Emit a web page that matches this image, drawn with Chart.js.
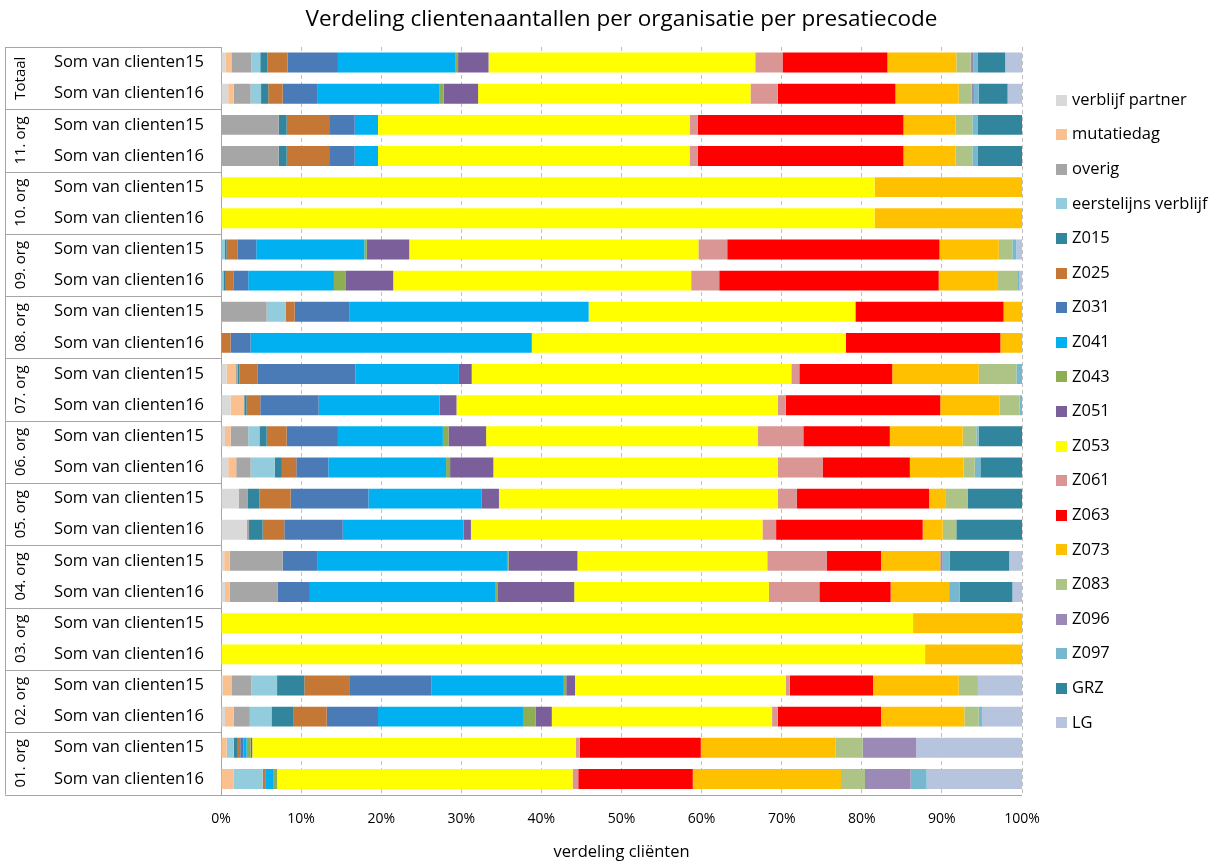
<!DOCTYPE html>
<html>
<head>
<meta charset="utf-8">
<script src="https://cdn.jsdelivr.net/npm/chart.js@4.4.0/dist/chart.umd.min.js"></script>
<style>
  html, body { margin: 0; padding: 0; background: #fff; }
  #wrap { width: 1216px; height: 864px; }
</style>
</head>
<body>
<div id="wrap"><canvas id="chart" width="1216" height="864"></canvas></div>
<script>
// organisaties, van boven naar beneden
const groups = ['Totaal', '11. org', '10. org', '09. org', '08. org', '07. org',
                '06. org', '05. org', '04. org', '03. org', '02. org', '01. org'];
const subLabels = ['Som van clienten15', 'Som van clienten16'];

// aandeel (%) per prestatiecode, 2 rijen per organisatie (15, 16)
const verblijfPartner = [0.6,0.9, 0,0, 0,0, 0,0, 0,0, 0.7,1.2, 0.5,0.9, 2.2,3.2, 0.4,0.5, 0,0, 0.2,0.5, 0,0];
const mutatiedag      = [0.7,0.7, 0,0, 0,0, 0,0, 0,0, 1.1,1.7, 0.7,1.0, 0,0, 0.7,0.6, 0,0, 1.1,1.1, 0.7,1.6];
const overig          = [2.5,2.1, 7.2,7.2, 0,0, 0,0, 5.7,0, 0.3,0, 2.2,1.8, 1.1,0.3, 6.6,6.0, 0,0, 2.5,2.0, 0,0];
const eerstelijns     = [1.1,1.3, 0,0, 0,0, 0.5,0.3, 2.4,0, 0,0, 1.4,3.0, 0,0, 0,0, 0,0, 3.2,2.7, 0.9,3.6];
const z015 = [0.9,0.9, 1.0,1.0, 0,0, 0.2,0.2, 0,0, 0.2,0.3, 0.9,0.9, 1.5,1.7, 0,0, 0,0, 3.4,2.7, 0.5,0];
const z025 = [2.5,1.8, 5.3,5.3, 0,0, 1.4,1.1, 1.1,1.2, 2.3,1.7, 2.5,1.8, 3.9,2.7, 0,0, 0,0, 5.7,4.2, 0.3,0.4];
const z031 = [6.3,4.3, 3.2,3.2, 0,0, 2.3,1.8, 6.8,2.5, 12.2,7.3, 6.4,4.0, 9.7,7.3, 4.3,4.0, 0,0, 10.2,6.4, 0.4,0];
const z041 = [14.7,15.3, 2.9,2.9, 0,0, 13.5,10.7, 29.9,35.1, 12.9,15.1, 13.1,14.7, 14.1,15.1, 23.7,23.2, 0,0, 16.5,18.1, 0.4,0.9];
const z043 = [0.3,0.5, 0,0, 0,0, 0.3,1.5, 0,0, 0,0, 0.7,0.5, 0,0, 0.2,0.2, 0,0, 0.3,1.6, 0.5,0.5];
const z051 = [3.8,4.3, 0,0, 0,0, 5.3,5.9, 0,0, 1.6,2.1, 4.7,5.4, 2.2,0.9, 8.6,9.6, 0,0, 1.1,2.0, 0.2,0];
const z053 = [33.3,34.0, 38.9,38.9, 81.6,81.6, 36.1,37.2, 33.3,39.2, 39.9,40.1, 33.9,35.5, 34.8,36.4, 23.7,24.3, 86.4,87.9, 26.3,27.5, 40.4,36.9];
const z061 = [3.4,3.4, 1.0,1.0, 0,0, 3.6,3.5, 0,0, 1.0,1.0, 5.7,5.6, 2.4,1.7, 7.4,6.3, 0,0, 0.5,0.7, 0.5,0.7];
const z063 = [13.1,14.7, 25.7,25.7, 0,0, 26.5,27.4, 18.5,19.3, 11.6,19.3, 10.8,10.9, 16.5,18.3, 6.8,8.9, 0,0, 10.4,12.9, 15.1,14.3];
const z073 = [8.6,7.9, 6.5,6.5, 18.4,18.4, 7.4,7.4, 2.3,2.7, 10.8,7.4, 9.1,6.7, 2.1,2.5, 7.4,7.3, 13.6,12.1, 10.7,10.4, 16.8,18.5];
const z083 = [1.8,1.6, 2.1,2.1, 0,0, 1.7,2.5, 0,0, 4.7,2.5, 1.7,1.4, 2.7,1.7, 0,0, 0,0, 2.4,1.8, 3.4,3.0];
const z096 = [0.3,0.3, 0,0, 0,0, 0,0, 0,0, 0,0, 0,0, 0,0, 0.3,0, 0,0, 0,0, 6.7,5.7];
const z097 = [0.6,0.6, 0.7,0.7, 0,0, 0.5,0.2, 0,0, 0.7,0.3, 0.3,0.7, 0,0, 0.9,1.3, 0,0, 0,0.4, 0,2.0];
const grz  = [3.4,3.6, 5.5,5.5, 0,0, 0,0, 0,0, 0,0, 5.4,5.2, 6.8,8.2, 7.4,6.6, 0,0, 0,0, 0,0];
const lg   = [2.1,1.8, 0,0, 0,0, 0.7,0.3, 0,0, 0,0, 0,0, 0,0, 1.6,1.2, 0,0, 5.5,5.0, 13.2,11.9];

const xTicks = [0, 10, 20, 30, 40, 50, 60, 70, 80, 90, 100];

const series = [
  ['verblijf partner', verblijfPartner, '#D9D9D9'],
  ['mutatiedag', mutatiedag, '#FAC090'],
  ['overig', overig, '#A6A6A6'],
  ['eerstelijns verblijf', eerstelijns, '#93CDDD'],
  ['Z015', z015, '#31859C'],
  ['Z025', z025, '#C57736'],
  ['Z031', z031, '#4A7BB7'],
  ['Z041', z041, '#00B0F0'],
  ['Z043', z043, '#8FAE52'],
  ['Z051', z051, '#7A5F9A'],
  ['Z053', z053, '#FFFF00'],
  ['Z061', z061, '#D99694'],
  ['Z063', z063, '#FF0000'],
  ['Z073', z073, '#FFC000'],
  ['Z083', z083, '#AEC486'],
  ['Z096', z096, '#9C8AB6'],
  ['Z097', z097, '#78B8CE'],
  ['GRZ', grz, '#31859C'],
  ['LG', lg, '#B6C4DE']
];

const rowLabels = [];
groups.forEach(() => subLabels.forEach(s => rowLabels.push(s)));

const FONT = '"Open Sans", sans-serif';

// organisatienamen + scheidingslijnen links van de as
const groupAxisPlugin = {
  id: 'groupAxis',
  afterDraw(chart) {
    const { ctx, chartArea } = chart;
    const y = chart.scales.y;
    const step = y.getPixelForValue(1) - y.getPixelForValue(0);
    const left = 5;
    ctx.save();
    ctx.strokeStyle = '#A6A6A6';
    ctx.lineWidth = 1;
    ctx.beginPath();
    ctx.moveTo(left + 0.5, chartArea.top);
    ctx.lineTo(left + 0.5, chartArea.bottom);
    for (let g = 0; g <= groups.length; g++) {
      const yy = g < groups.length ? y.getPixelForValue(g * 2) - step / 2 : chartArea.bottom;
      const py = Math.round(yy) + 0.5;
      ctx.moveTo(left, py);
      ctx.lineTo(chartArea.left, py);
    }
    // x-as
    ctx.moveTo(chartArea.left, Math.round(chartArea.bottom) + 0.5);
    ctx.lineTo(chartArea.right, Math.round(chartArea.bottom) + 0.5);
    ctx.stroke();

    ctx.fillStyle = '#000';
    ctx.font = '15px ' + FONT;
    ctx.textAlign = 'center';
    ctx.textBaseline = 'middle';
    groups.forEach((g, i) => {
      const mid = (y.getPixelForValue(i * 2) + y.getPixelForValue(i * 2 + 1)) / 2;
      ctx.save();
      ctx.translate(21, mid);
      ctx.rotate(-Math.PI / 2);
      ctx.fillText(g, 0, 0);
      ctx.restore();
    });
    ctx.restore();
  }
};

// legenda rechts naast de grafiek
const sideLegendPlugin = {
  id: 'sideLegend',
  afterDraw(chart) {
    const { ctx } = chart;
    ctx.save();
    ctx.font = '16.5px ' + FONT;
    ctx.textBaseline = 'middle';
    ctx.textAlign = 'left';
    chart.data.datasets.forEach((ds, i) => {
      const cy = 100 + i * 34.6;
      ctx.fillStyle = ds.backgroundColor;
      ctx.fillRect(1056, Math.round(cy - 5.5), 11, 11);
      ctx.fillStyle = '#000';
      ctx.fillText(ds.label, 1072, cy);
    });
    ctx.restore();
  }
};

new Chart(document.getElementById('chart'), {
  type: 'bar',
  data: {
    labels: rowLabels,
    datasets: series.map(([label, data, color]) => ({
      label: label,
      data: data,
      backgroundColor: color,
      borderWidth: 0,
      barPercentage: 0.64,
      categoryPercentage: 1
    }))
  },
  options: {
    indexAxis: 'y',
    responsive: false,
    animation: false,
    layout: { padding: { left: 0, right: 194, top: 0, bottom: 3 } },
    plugins: {
      legend: { display: false },
      tooltip: { enabled: false },
      title: {
        display: true,
        fullSize: false,
        text: 'Verdeling clientenaantallen per organisatie per presatiecode',
        color: '#000',
        font: { family: FONT, size: 22.5, weight: 'normal' },
        padding: { top: 6, bottom: 14 }
      }
    },
    scales: {
      x: {
        stacked: true,
        min: 0,
        max: 100,
        afterBuildTicks: (scale) => { scale.ticks = xTicks.map(v => ({ value: v })); },
        ticks: {
          callback: (v) => v + '%',
          color: '#000',
          font: { family: FONT, size: 14 },
          padding: 16.6,
          maxRotation: 0
        },
        grid: {
          color: '#BFBFBF',
          drawTicks: false
        },
        border: { display: false, dash: [4, 3] },
        title: {
          display: true,
          text: 'verdeling cliënten',
          color: '#000',
          font: { family: FONT, size: 16.5, lineHeight: 1 },
          padding: { top: 0, bottom: 0 }
        }
      },
      y: {
        stacked: true,
        afterFit: (scale) => { scale.width = 221; },
        ticks: {
          color: '#000',
          font: { family: FONT, size: 16.5 },
          padding: 9,
          autoSkip: false
        },
        grid: { display: false },
        border: { color: '#A6A6A6' }
      }
    }
  },
  plugins: [groupAxisPlugin, sideLegendPlugin]
});
</script>
</body>
</html>
